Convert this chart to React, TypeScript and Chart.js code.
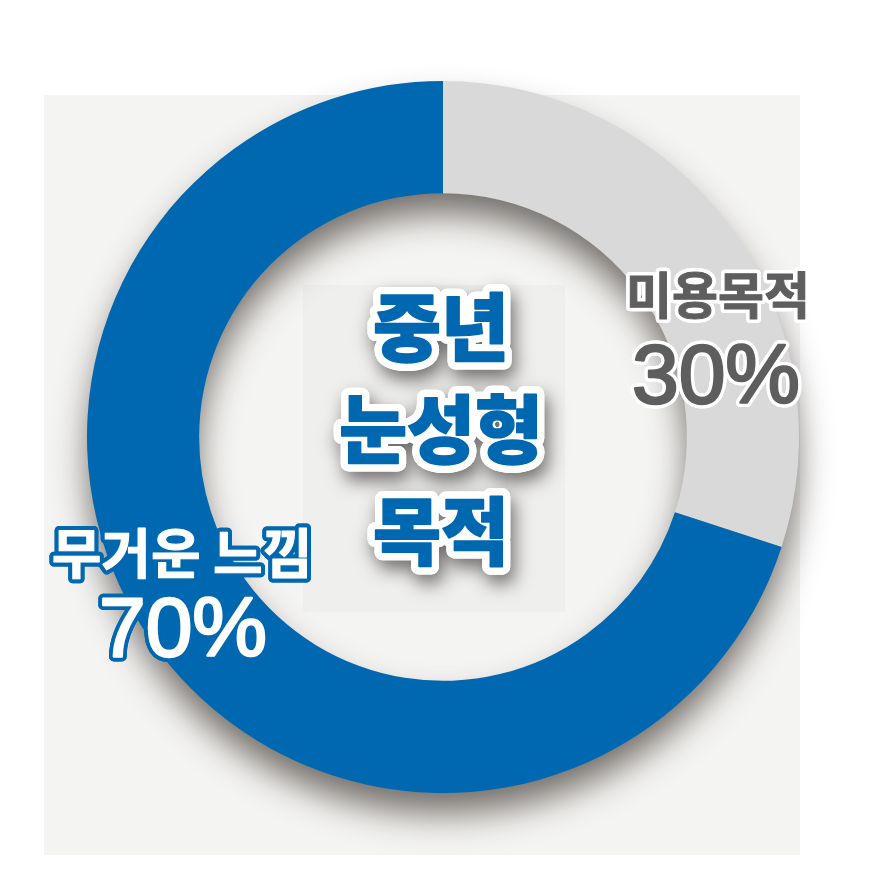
import React, { useEffect, useRef } from "react";
import { Chart, registerables } from "chart.js";

Chart.register(...registerables);

const categories = ["미용목적", "무거운 느낌"];
const values = [30, 70];
const colors = ["#d9d9d9", "#0068b0"];
const centerLines = ["중년", "눈성형", "목적"];

const KR = '"Noto Sans CJK KR", "Noto Sans", sans-serif';
const LAT = '"Liberation Sans", Arial, sans-serif';

function outlinedText(
  ctx: CanvasRenderingContext2D,
  text: string,
  x: number,
  y: number,
  font: string,
  fill: string,
  stroke: string,
  lw: number,
  thicken: number,
  shadow?: { color: string; blur: number; dx: number; dy: number }
) {
  ctx.save();
  ctx.font = font;
  ctx.textAlign = "center";
  ctx.textBaseline = "middle";
  ctx.lineJoin = "round";
  ctx.lineWidth = lw;
  ctx.strokeStyle = stroke;
  if (shadow) {
    ctx.shadowColor = shadow.color;
    ctx.shadowBlur = shadow.blur;
    ctx.shadowOffsetX = shadow.dx;
    ctx.shadowOffsetY = shadow.dy;
  }
  ctx.strokeText(text, x, y);
  ctx.shadowColor = "transparent";
  ctx.strokeText(text, x, y);
  ctx.fillStyle = fill;
  ctx.fillText(text, x, y);
  if (thicken > 0) {
    ctx.lineWidth = thicken;
    ctx.strokeStyle = fill;
    ctx.strokeText(text, x, y);
  }
  ctx.restore();
}

const decorPlugin = {
  id: "decor",
  beforeDraw(chart: any) {
    const ctx = chart.ctx as CanvasRenderingContext2D;
    ctx.save();
    ctx.fillStyle = "#ffffff";
    ctx.fillRect(0, 0, chart.width, chart.height);
    ctx.fillStyle = "#f4f4f2";
    ctx.fillRect(44, 95, 756, 760);
    ctx.fillStyle = "rgba(0,0,0,0.02)";
    ctx.fillRect(303, 285, 262, 327);
    ctx.restore();
  },
  beforeDatasetsDraw(chart: any) {
    const meta = chart.getDatasetMeta(0);
    const arc = meta.data[0];
    if (!arc) return;
    const { x, y, outerRadius, innerRadius } = arc.getProps(["x", "y", "outerRadius", "innerRadius"], true);
    const ctx = chart.ctx as CanvasRenderingContext2D;
    ctx.save();
    ctx.shadowColor = "rgba(100,94,90,0.9)";
    ctx.shadowBlur = 34;
    ctx.shadowOffsetX = 0;
    ctx.shadowOffsetY = 22;
    ctx.fillStyle = "#999999";
    ctx.beginPath();
    ctx.arc(x, y, outerRadius - 2, 0, Math.PI * 2);
    ctx.arc(x, y, innerRadius + 2, 0, Math.PI * 2, true);
    ctx.closePath();
    ctx.fill();
    ctx.restore();
  },
  afterDatasetsDraw(chart: any) {
    const meta = chart.getDatasetMeta(0);
    const arc = meta.data[0];
    if (!arc) return;
    const { x, y } = arc.getProps(["x", "y"], true);
    const ctx = chart.ctx as CanvasRenderingContext2D;

    // center title
    const cFont = `900 74px ${KR}`;
    const lineGap = 102;
    centerLines.forEach((t, i) => {
      outlinedText(ctx, t, x - 2, y - 110 + i * lineGap, cFont, "#0068b0", "#ffffff", 16, 1.5, {
        color: "rgba(60,55,55,0.7)",
        blur: 18,
        dx: 4,
        dy: 9,
      });
    });

    // gray segment label
    outlinedText(ctx, categories[0], x + 275, y - 142, `bold 50px ${KR}`, "#5e5e5e", "#ffffff", 8, 1, undefined);
    outlinedText(ctx, `${values[0]}%`, x + 273, y - 57, `84px ${LAT}`, "#5e5e5e", "#ffffff", 9, 2.5, undefined);

    // blue segment label
    outlinedText(ctx, categories[1], x - 261, y + 116, `bold 54px ${KR}`, "#ffffff", "#0068b0", 9, 1, undefined);
    outlinedText(ctx, `${values[1]}%`, x - 260, y + 196, `84px ${LAT}`, "#ffffff", "#0068b0", 10, 2.5, undefined);
  },
};

export default function App() {
  const ref = useRef<HTMLCanvasElement>(null);
  useEffect(() => {
    document.body.style.margin = "0";
    const chart = new Chart(ref.current!, {
      type: "doughnut",
      data: {
        labels: categories,
        datasets: [
          {
            data: values,
            backgroundColor: colors,
            borderWidth: 0,
          },
        ],
      },
      options: {
        responsive: false,
        animation: false,
        cutout: "68.5%",
        layout: { padding: { left: 87, right: 91, top: 81, bottom: 101 } },
        plugins: {
          legend: { display: false },
          tooltip: { enabled: false },
        },
      },
      plugins: [decorPlugin],
    });
    return () => chart.destroy();
  }, []);
  return <canvas ref={ref} width={890} height={894} style={{ display: "block" }} />;
}
